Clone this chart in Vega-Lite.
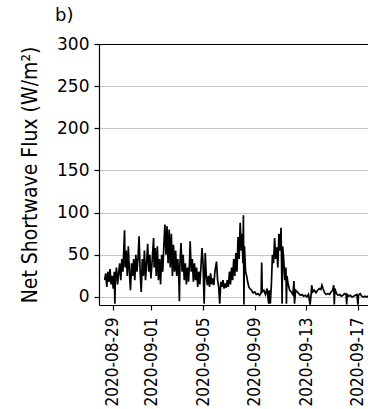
{
  "$schema": "https://vega.github.io/schema/vega-lite/v6.json",
  "autosize": {"type": "none"},
  "padding": {"left": 99, "top": 44, "right": 0, "bottom": 104},
  "width": 269,
  "height": 261,
  "title": {"text": "b)", "anchor": "start", "frame": "group", "dx": -44, "offset": -4, "baseline": "alphabetic", "font": "DejaVu Sans", "fontSize": 18, "fontWeight": "normal", "color": "black"},
  "config": {
    "view": {"stroke": null},
    "axis": {"domainColor": "black", "tickColor": "black", "labelColor": "black", "titleColor": "black", "domainWidth": 1.2, "tickWidth": 1.2}
  },
  "data": {"values": [
    {"t":"2020-08-28T09:00Z","v":20},{"t":"2020-08-28T11:00Z","v":28},{"t":"2020-08-28T13:00Z","v":12},{"t":"2020-08-28T15:00Z","v":30},
    {"t":"2020-08-28T17:00Z","v":18},{"t":"2020-08-28T19:00Z","v":33},{"t":"2020-08-28T21:00Z","v":15},{"t":"2020-08-28T23:00Z","v":25},
    {"t":"2020-08-29T01:00Z","v":10},{"t":"2020-08-29T03:00Z","v":30},{"t":"2020-08-29T04:00Z","v":-8},{"t":"2020-08-29T05:00Z","v":22},
    {"t":"2020-08-29T07:00Z","v":35},{"t":"2020-08-29T09:00Z","v":15},{"t":"2020-08-29T11:00Z","v":28},{"t":"2020-08-29T13:00Z","v":40},
    {"t":"2020-08-29T15:00Z","v":20},{"t":"2020-08-29T17:00Z","v":45},{"t":"2020-08-29T19:00Z","v":30},{"t":"2020-08-29T22:00Z","v":79},
    {"t":"2020-08-29T23:00Z","v":35},{"t":"2020-08-30T01:00Z","v":55},{"t":"2020-08-30T03:00Z","v":25},{"t":"2020-08-30T05:00Z","v":60},
    {"t":"2020-08-30T07:00Z","v":30},{"t":"2020-08-30T09:00Z","v":8},{"t":"2020-08-30T11:00Z","v":40},{"t":"2020-08-30T13:00Z","v":25},
    {"t":"2020-08-30T15:00Z","v":45},{"t":"2020-08-30T17:00Z","v":20},{"t":"2020-08-30T19:00Z","v":50},{"t":"2020-08-30T21:00Z","v":30},
    {"t":"2020-08-30T23:00Z","v":45},{"t":"2020-08-31T01:00Z","v":72},{"t":"2020-08-31T03:00Z","v":30},{"t":"2020-08-31T05:00Z","v":6},
    {"t":"2020-08-31T07:00Z","v":45},{"t":"2020-08-31T09:00Z","v":25},{"t":"2020-08-31T11:00Z","v":55},{"t":"2020-08-31T13:00Z","v":20},
    {"t":"2020-08-31T15:00Z","v":40},{"t":"2020-08-31T17:00Z","v":63},{"t":"2020-08-31T19:00Z","v":30},{"t":"2020-08-31T21:00Z","v":50},
    {"t":"2020-08-31T23:00Z","v":22},{"t":"2020-09-01T01:00Z","v":40},{"t":"2020-09-01T04:00Z","v":70},{"t":"2020-09-01T05:00Z","v":35},
    {"t":"2020-09-01T07:00Z","v":58},{"t":"2020-09-01T09:00Z","v":25},{"t":"2020-09-01T11:00Z","v":60},{"t":"2020-09-01T13:00Z","v":20},
    {"t":"2020-09-01T15:00Z","v":45},{"t":"2020-09-01T17:00Z","v":15},{"t":"2020-09-01T19:00Z","v":50},{"t":"2020-09-01T21:00Z","v":30},
    {"t":"2020-09-01T23:00Z","v":60},{"t":"2020-09-02T01:00Z","v":86},{"t":"2020-09-02T03:00Z","v":50},{"t":"2020-09-02T05:00Z","v":84},
    {"t":"2020-09-02T07:00Z","v":40},{"t":"2020-09-02T09:00Z","v":80},{"t":"2020-09-02T11:00Z","v":35},{"t":"2020-09-02T13:00Z","v":75},
    {"t":"2020-09-02T15:00Z","v":25},{"t":"2020-09-02T17:00Z","v":62},{"t":"2020-09-02T19:00Z","v":30},{"t":"2020-09-02T21:00Z","v":55},
    {"t":"2020-09-02T23:00Z","v":25},{"t":"2020-09-03T01:00Z","v":45},{"t":"2020-09-03T03:00Z","v":20},{"t":"2020-09-03T04:00Z","v":-5},
    {"t":"2020-09-03T05:00Z","v":40},{"t":"2020-09-03T07:00Z","v":64},{"t":"2020-09-03T09:00Z","v":30},{"t":"2020-09-03T11:00Z","v":50},
    {"t":"2020-09-03T13:00Z","v":20},{"t":"2020-09-03T15:00Z","v":40},{"t":"2020-09-03T17:00Z","v":15},{"t":"2020-09-03T19:00Z","v":35},
    {"t":"2020-09-03T21:00Z","v":18},{"t":"2020-09-03T23:00Z","v":45},{"t":"2020-09-04T00:00Z","v":66},{"t":"2020-09-04T02:00Z","v":30},
    {"t":"2020-09-04T04:00Z","v":45},{"t":"2020-09-04T06:00Z","v":18},{"t":"2020-09-04T08:00Z","v":40},{"t":"2020-09-04T10:00Z","v":20},
    {"t":"2020-09-04T12:00Z","v":35},{"t":"2020-09-04T14:00Z","v":12},{"t":"2020-09-04T16:00Z","v":30},{"t":"2020-09-04T18:00Z","v":15},
    {"t":"2020-09-04T20:00Z","v":35},{"t":"2020-09-04T22:00Z","v":58},{"t":"2020-09-05T00:00Z","v":40},{"t":"2020-09-05T02:00Z","v":-8},
    {"t":"2020-09-05T04:00Z","v":52},{"t":"2020-09-05T06:00Z","v":25},{"t":"2020-09-05T08:00Z","v":14},{"t":"2020-09-05T10:00Z","v":25},
    {"t":"2020-09-05T12:00Z","v":12},{"t":"2020-09-05T14:00Z","v":28},{"t":"2020-09-05T16:00Z","v":15},{"t":"2020-09-05T18:00Z","v":22},
    {"t":"2020-09-05T20:00Z","v":14},{"t":"2020-09-05T22:00Z","v":30},{"t":"2020-09-06T01:00Z","v":42},{"t":"2020-09-06T03:00Z","v":20},
    {"t":"2020-09-06T05:00Z","v":12},{"t":"2020-09-06T07:00Z","v":-8},{"t":"2020-09-06T09:00Z","v":18},{"t":"2020-09-06T11:00Z","v":12},
    {"t":"2020-09-06T13:00Z","v":20},{"t":"2020-09-06T15:00Z","v":10},{"t":"2020-09-06T17:00Z","v":16},{"t":"2020-09-06T19:00Z","v":11},
    {"t":"2020-09-06T21:00Z","v":20},{"t":"2020-09-06T23:00Z","v":12},{"t":"2020-09-07T01:00Z","v":30},{"t":"2020-09-07T03:00Z","v":15},
    {"t":"2020-09-07T05:00Z","v":35},{"t":"2020-09-07T07:00Z","v":20},{"t":"2020-09-07T09:00Z","v":45},{"t":"2020-09-07T11:00Z","v":25},
    {"t":"2020-09-07T13:00Z","v":52},{"t":"2020-09-07T15:00Z","v":30},{"t":"2020-09-07T17:00Z","v":71},{"t":"2020-09-07T19:00Z","v":45},
    {"t":"2020-09-07T21:00Z","v":88},{"t":"2020-09-07T23:00Z","v":55},{"t":"2020-09-08T01:00Z","v":75},{"t":"2020-09-08T02:00Z","v":40},
    {"t":"2020-09-08T03:00Z","v":97},{"t":"2020-09-08T04:00Z","v":-9},{"t":"2020-09-08T05:00Z","v":60},{"t":"2020-09-08T07:00Z","v":30},
    {"t":"2020-09-08T09:00Z","v":25},{"t":"2020-09-08T11:00Z","v":18},{"t":"2020-09-08T13:00Z","v":12},{"t":"2020-09-08T15:00Z","v":10},
    {"t":"2020-09-08T18:00Z","v":8},{"t":"2020-09-08T21:00Z","v":5},{"t":"2020-09-09T00:00Z","v":6},{"t":"2020-09-09T03:00Z","v":3},
    {"t":"2020-09-09T06:00Z","v":4},{"t":"2020-09-09T09:00Z","v":2},{"t":"2020-09-09T12:00Z","v":5},{"t":"2020-09-09T13:00Z","v":41},
    {"t":"2020-09-09T14:00Z","v":6},{"t":"2020-09-09T17:00Z","v":8},{"t":"2020-09-09T20:00Z","v":3},{"t":"2020-09-09T23:00Z","v":10},
    {"t":"2020-09-10T02:00Z","v":-8},{"t":"2020-09-10T03:00Z","v":8},{"t":"2020-09-10T05:00Z","v":-8},{"t":"2020-09-10T07:00Z","v":15},
    {"t":"2020-09-10T09:00Z","v":50},{"t":"2020-09-10T11:00Z","v":40},{"t":"2020-09-10T13:00Z","v":70},{"t":"2020-09-10T15:00Z","v":45},
    {"t":"2020-09-10T17:00Z","v":59},{"t":"2020-09-10T19:00Z","v":35},{"t":"2020-09-10T21:00Z","v":75},{"t":"2020-09-10T23:00Z","v":55},
    {"t":"2020-09-11T01:00Z","v":82},{"t":"2020-09-11T03:00Z","v":-8},{"t":"2020-09-11T04:00Z","v":60},{"t":"2020-09-11T06:00Z","v":44},
    {"t":"2020-09-11T08:00Z","v":20},{"t":"2020-09-11T10:00Z","v":35},{"t":"2020-09-11T11:00Z","v":-8},{"t":"2020-09-11T12:00Z","v":25},
    {"t":"2020-09-11T14:00Z","v":16},{"t":"2020-09-11T17:00Z","v":8},{"t":"2020-09-11T20:00Z","v":6},{"t":"2020-09-11T23:00Z","v":3},
    {"t":"2020-09-12T01:00Z","v":19},{"t":"2020-09-12T02:00Z","v":-8},{"t":"2020-09-12T04:00Z","v":8},{"t":"2020-09-12T07:00Z","v":6},
    {"t":"2020-09-12T10:00Z","v":4},{"t":"2020-09-12T13:00Z","v":2},{"t":"2020-09-12T16:00Z","v":3},{"t":"2020-09-12T19:00Z","v":1},
    {"t":"2020-09-12T22:00Z","v":2},{"t":"2020-09-13T01:00Z","v":0},{"t":"2020-09-13T04:00Z","v":3},{"t":"2020-09-13T07:00Z","v":-9},
    {"t":"2020-09-13T09:00Z","v":4},{"t":"2020-09-13T10:00Z","v":14},{"t":"2020-09-13T12:00Z","v":6},{"t":"2020-09-13T15:00Z","v":8},
    {"t":"2020-09-13T18:00Z","v":5},{"t":"2020-09-13T21:00Z","v":8},{"t":"2020-09-14T00:00Z","v":10},{"t":"2020-09-14T03:00Z","v":9},
    {"t":"2020-09-14T05:00Z","v":14},{"t":"2020-09-14T07:00Z","v":10},{"t":"2020-09-14T10:00Z","v":5},{"t":"2020-09-14T13:00Z","v":3},
    {"t":"2020-09-14T16:00Z","v":4},{"t":"2020-09-14T19:00Z","v":3},{"t":"2020-09-14T22:00Z","v":6},{"t":"2020-09-15T01:00Z","v":8},
    {"t":"2020-09-15T03:00Z","v":14},{"t":"2020-09-15T04:00Z","v":-9},{"t":"2020-09-15T05:00Z","v":10},{"t":"2020-09-15T08:00Z","v":4},
    {"t":"2020-09-15T11:00Z","v":2},{"t":"2020-09-15T14:00Z","v":3},{"t":"2020-09-15T17:00Z","v":1},{"t":"2020-09-15T20:00Z","v":2},
    {"t":"2020-09-15T23:00Z","v":4},{"t":"2020-09-16T02:00Z","v":3},{"t":"2020-09-16T03:00Z","v":-9},{"t":"2020-09-16T04:00Z","v":3},
    {"t":"2020-09-16T07:00Z","v":1},{"t":"2020-09-16T10:00Z","v":2},{"t":"2020-09-16T13:00Z","v":0},{"t":"2020-09-16T16:00Z","v":1},
    {"t":"2020-09-16T19:00Z","v":2},{"t":"2020-09-16T22:00Z","v":3},{"t":"2020-09-17T00:00Z","v":-9},{"t":"2020-09-17T01:00Z","v":2},
    {"t":"2020-09-17T04:00Z","v":4},{"t":"2020-09-17T07:00Z","v":1},{"t":"2020-09-17T10:00Z","v":0},{"t":"2020-09-17T13:00Z","v":1},
    {"t":"2020-09-17T16:00Z","v":0},{"t":"2020-09-17T19:00Z","v":1},{"t":"2020-09-17T22:00Z","v":0}
  ]},
  "layer": [
    {
      "mark": {"type": "line", "color": "black", "strokeWidth": 1.7, "clip": true},
      "encoding": {
        "x": {
          "field": "t", "type": "temporal",
          "scale": {"type": "utc", "domain": [
            {"year": 2020, "month": 8, "date": 27, "hours": 22, "minutes": 30, "utc": true},
            {"year": 2020, "month": 9, "date": 17, "hours": 18, "minutes": 40, "utc": true}
          ]},
          "axis": {
            "title": null,
            "grid": false,
            "format": "%Y-%m-%d",
            "values": [
              {"year": 2020, "month": 8, "date": 29, "utc": true},
              {"year": 2020, "month": 9, "date": 1, "utc": true},
              {"year": 2020, "month": 9, "date": 5, "utc": true},
              {"year": 2020, "month": 9, "date": 9, "utc": true},
              {"year": 2020, "month": 9, "date": 13, "utc": true},
              {"year": 2020, "month": 9, "date": 17, "utc": true}
            ],
            "labelAngle": 270,
            "labelFont": "DejaVu Sans Condensed, DejaVu Sans",
            "labelFontSize": 17,
            "labelPadding": 7,
            "tickSize": 5,
            "labelOverlap": false
          }
        },
        "y": {
          "field": "v", "type": "quantitative",
          "scale": {"domain": [-9.5, 300], "nice": false, "zero": false},
          "axis": {
            "title": "Net Shortwave Flux (W/m²)",
            "values": [0, 50, 100, 150, 200, 250, 300],
            "grid": true,
            "gridColor": "#c8c8c8",
            "gridWidth": 1,
            "labelFont": "DejaVu Sans",
            "labelFontSize": 17,
            "labelPadding": 5,
            "tickSize": 5,
            "titleFont": "DejaVu Sans Condensed, DejaVu Sans",
            "titleFontSize": 21,
            "titleFontWeight": "normal",
            "titlePadding": 16
          }
        }
      }
    },
    {
      "mark": {"type": "rule", "color": "black", "strokeWidth": 1, "yOffset": 0.5},
      "encoding": {"y": {"datum": 300}}
    }
  ]
}
